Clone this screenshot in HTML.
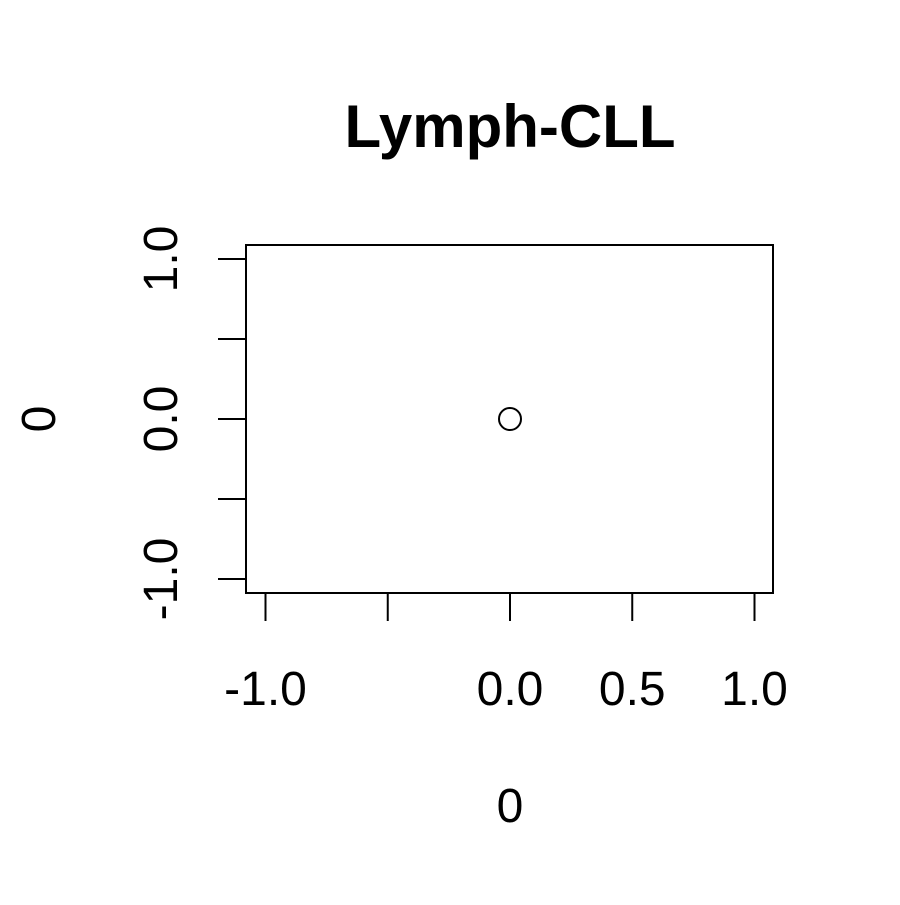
<!DOCTYPE html>
<html><head><meta charset="utf-8"><style>
html,body{margin:0;padding:0;background:#fff;}
svg text{font-family:"Liberation Sans",Arial,sans-serif;fill:#000;}
</style></head><body>
<svg id="chart" width="900" height="900" viewBox="0 0 900 900" xmlns="http://www.w3.org/2000/svg">
<rect width="900" height="900" fill="#fff"/>
<text x="510" y="147" text-anchor="middle" font-size="60" font-weight="bold">Lymph-CLL</text>
<rect x="246" y="245" width="527" height="348" fill="none" stroke="#000" stroke-width="2"/>
<g id="xaxis"></g>
<g id="yaxis"></g>
<g id="points"></g>
<text x="510" y="822" text-anchor="middle" font-size="48">0</text>
<text transform="translate(55,419) rotate(-90)" text-anchor="middle" font-size="48">0</text>
</svg>
<script>
const xTicks = [-1.0, -0.5, 0.0, 0.5, 1.0];
const xTickLabels = ["-1.0", "", "0.0", "0.5", "1.0"];
const yTicks = [-1.0, -0.5, 0.0, 0.5, 1.0];
const yTickLabels = ["-1.0", "", "0.0", "", "1.0"];
const pointX = [0];
const pointY = [0];

const NS = "http://www.w3.org/2000/svg";
function sx(v){ return 510 + v * 244.5; }
function sy(v){ return 419 - v * 160; }
function mk(tag, attrs, parent){
  const e = document.createElementNS(NS, tag);
  for (const k in attrs) e.setAttribute(k, attrs[k]);
  parent.appendChild(e);
  return e;
}
const xa = document.getElementById('xaxis');
mk('line',{x1:sx(-1),x2:sx(1),y1:593,y2:593,stroke:'#000','stroke-width':2},xa);
xTicks.forEach((t,i)=>{
  const l = mk('line',{x1:sx(t),x2:sx(t),y1:593,y2:621,stroke:'#000','stroke-width':2},xa);
  
  
  if (xTickLabels[i]) {
    const tx = mk('text',{x:sx(t),y:705,'text-anchor':'middle','font-size':48},xa);
    tx.textContent = xTickLabels[i];
    
    
  }
});
const ya = document.getElementById('yaxis');
mk('line',{x1:246,x2:246,y1:sy(-1),y2:sy(1),stroke:'#000','stroke-width':2},ya);
yTicks.forEach((t,i)=>{
  const l = mk('line',{x1:218,x2:246,y1:sy(t),y2:sy(t),stroke:'#000','stroke-width':2},ya);
  
  
  if (yTickLabels[i]) {
    const tx = mk('text',{transform:'translate(177,'+sy(t)+') rotate(-90)','text-anchor':'middle','font-size':48},ya);
    tx.textContent = yTickLabels[i];
    
    
  }
});
const pg = document.getElementById('points');
pointX.forEach((v,i)=>{
  const c = mk('circle',{cx:sx(v),cy:sy(pointY[i]),r:11,fill:'none',stroke:'#000','stroke-width':2},pg);
  
  
});
</script>
</body></html>
